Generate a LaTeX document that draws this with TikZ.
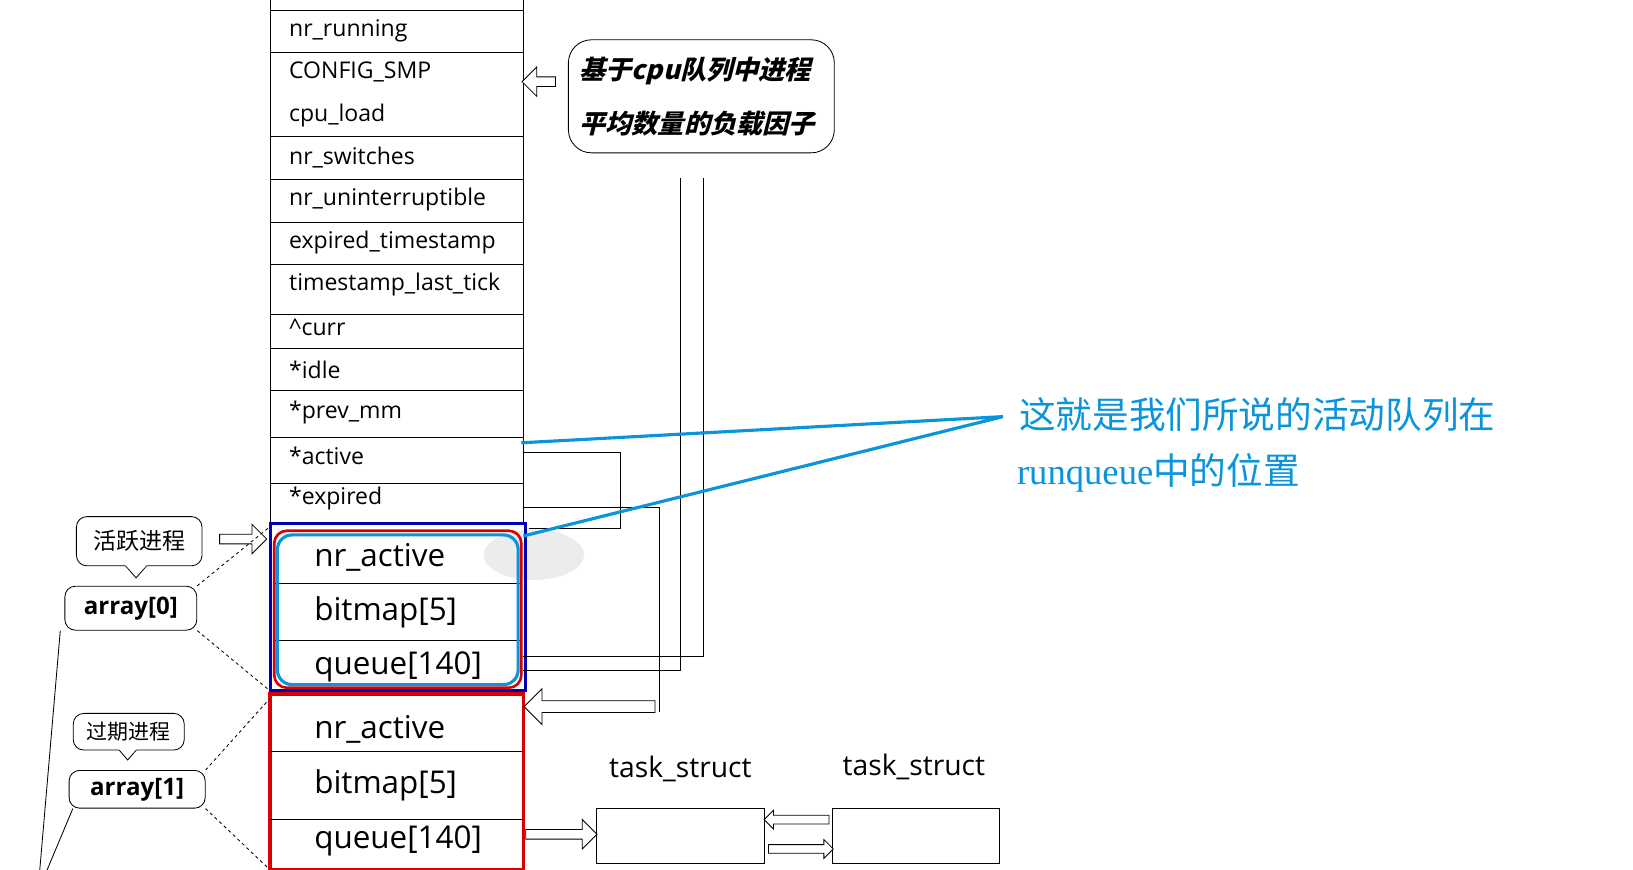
\documentclass[tikz,border=0pt]{standalone}
\usepackage{fontspec}
\setmainfont{Open Sans}
\newfontfamily\cjk{Noto Sans CJK SC}
\newfontfamily\serifl{Liberation Serif}
\usetikzlibrary{shapes.arrows,shapes.callouts}
\tikzset{
 fld/.style={anchor=west,font=\fontsize{22}{22}\selectfont,inner sep=0},
 big/.style={anchor=west,font=\fontsize{30}{30}\selectfont,inner sep=0},
 hol/.style={single arrow,draw,thick,fill=white,minimum height=#1,minimum width=26,single arrow head extend=7,inner sep=3},
 bub/.style={draw,thick,rounded corners=10,fill=white,inner sep=6},
 wire/.style={thick},
 cy/.style={draw=cyan!80!blue,line width=3},
}
\begin{document}
\begin{tikzpicture}[x=1pt,y=-1pt]
\useasboundingbox (0,0) rectangle (1560,831);
% main column
\draw[thick] (258,0) -- (258,500) (500,0) -- (500,500);
\foreach \y in {10,50,130,171,212,253,300,333,373,418,462}
  \draw[thick] (258,\y) -- (500,\y);
\node[fld] (f1) at (276,29) {nr\_running};
\node[fld] (f2) at (276,69) {CONFIG\_SMP};
\node[fld] (f3) at (276,110) {cpu\_load};
\node[fld] (f4) at (276,150) {nr\_switches};
\node[fld] (f5) at (276,191) {nr\_uninterruptible};
\node[fld] (f6) at (276,232) {expired\_timestamp};
\node[fld] (f7) at (276,272) {timestamp\_last\_tick};
\node[fld] (f8) at (276,313) {\^{}curr};
\node[fld] (f9) at (276,353) {*idle};
\node[fld] (f10) at (276,394) {*prev\_mm};
\node[fld] (f11) at (276,435) {*active};
\node[fld] (f12) at (276,476) {*expired};
% grey blob
\fill[gray!15] (510,530) ellipse (48 and 24);
% active array
\draw[blue!70!black,line width=3] (258,500) rectangle (502,660);
\draw[thick] (262,557) -- (498,557) (262,612) -- (498,612);
\draw[red!85!black,line width=2.5,rounded corners=12] (262,507) rectangle (498,657);
\draw[cy,rounded corners=14] (265,511) rectangle (495,654);
\node[big] (a1) at (300,532) {nr\_active};
\node[big] (a2) at (300,585) {bitmap[5]};
\node[big] (a3) at (300,637) {queue[140]};
% expired array
\draw[red!85!black,line width=3.5] (258,663) rectangle (500,831);
\draw[thick] (258,718) -- (500,718) (258,783) -- (500,783);
\node[big] (e1) at (300,697) {nr\_active};
\node[big] (e2) at (300,750) {bitmap[5]};
\node[big] (e3) at (300,803) {queue[140]};
% task structs
\draw[thick] (570,772) rectangle (730,825);
\draw[thick] (795,772) rectangle (955,825);
\node[font=\fontsize{27}{27}\selectfont] (tl1) at (650,735) {task\_struct};
\node[font=\fontsize{27}{27}\selectfont] (tl2) at (873,733) {task\_struct};
\node[hol=68,minimum width=28] (q2) at (534,797) {};
\node[hol=62,minimum width=18,single arrow head extend=4,shape border rotate=180] (tb1) at (763,783) {};
\node[hol=62,minimum width=18,single arrow head extend=4] (tb2) at (763,811) {};
% right wiring
\draw[wire] (500,432) -- (593,432) -- (593,505) -- (505,505);
\draw[wire] (500,485) -- (630,485) -- (630,680);
\node[hol=125,minimum width=34,shape border rotate=180] (back) at (566,675) {};
\draw[wire] (500,627) -- (672,627) -- (672,170);
\draw[wire] (500,640) -- (650,640) -- (650,170);
% cpu bubble
\draw[thick,rounded corners=22] (543,38) rectangle (797,146);
\node[font=\cjk\bfseries\fontsize{25}{25}\selectfont,anchor=west] (c1) at (550,68) {\addfontfeatures{FakeSlant=0.25}基于cpu队列中进程};
\node[font=\cjk\bfseries\fontsize{25}{25}\selectfont,anchor=west] (c2) at (550,118) {\addfontfeatures{FakeSlant=0.25}平均数量的负载因子};
\node[hol=32,minimum width=28,shape border rotate=180] (ca) at (517,78) {};
% left labels
\draw[thick,fill=white] (116,536) -- (130,552) -- (144,536);
\node[bub,font=\cjk\fontsize{22}{22}\selectfont,minimum width=120,minimum height=47] (b1) at (133,517) {活跃进程};
\fill[white] (117,537) -- (130,550) -- (143,537) -- cycle;
\node[bub,font=\bfseries\fontsize{23}{23}\selectfont,minimum width=126,minimum height=42] (r0) at (125,581) {array[0]};
\draw[thick,fill=white] (110,712) -- (122,726) -- (134,712);
\node[bub,font=\cjk\fontsize{20}{20}\selectfont,inner sep=4,minimum width=106,minimum height=35] (b2) at (123,699) {过期进程};
\fill[white] (111,713) -- (122,724) -- (133,713) -- cycle;
\node[bub,font=\bfseries\fontsize{23}{23}\selectfont,minimum width=130,minimum height=36] (r1) at (131,754) {array[1]};
\node[hol=45,minimum width=28] (la) at (230,515) {};
\draw[thick,dashed] (r0.north east) -- (258,503);
\draw[thick,dashed] (r0.south east) -- (258,660);
\draw[thick,dashed] (r1.north east) -- (258,667);
\draw[thick,dashed] (r1.south east) -- (258,831);
\draw[thick] (r0.south west) ++(-4,0) -- (38,831);
\draw[thick] (r1.south west) ++(4,0) -- (45,831);
% cyan annotation
\coordinate (cp) at (958,398);
\draw[cy] (498,423) -- (cp) -- (500,512);
\node[anchor=west,text=cyan!80!blue,font=\cjk\fontsize{35}{35}\selectfont] (n1) at (970,396) {这就是我们所说的活动队列在};
\node[anchor=west,text=cyan!80!blue,font=\fontsize{35}{35}\selectfont] (n2) at (968,452) {\serifl runqueue\cjk 中的位置};
\end{tikzpicture}
\end{document}
